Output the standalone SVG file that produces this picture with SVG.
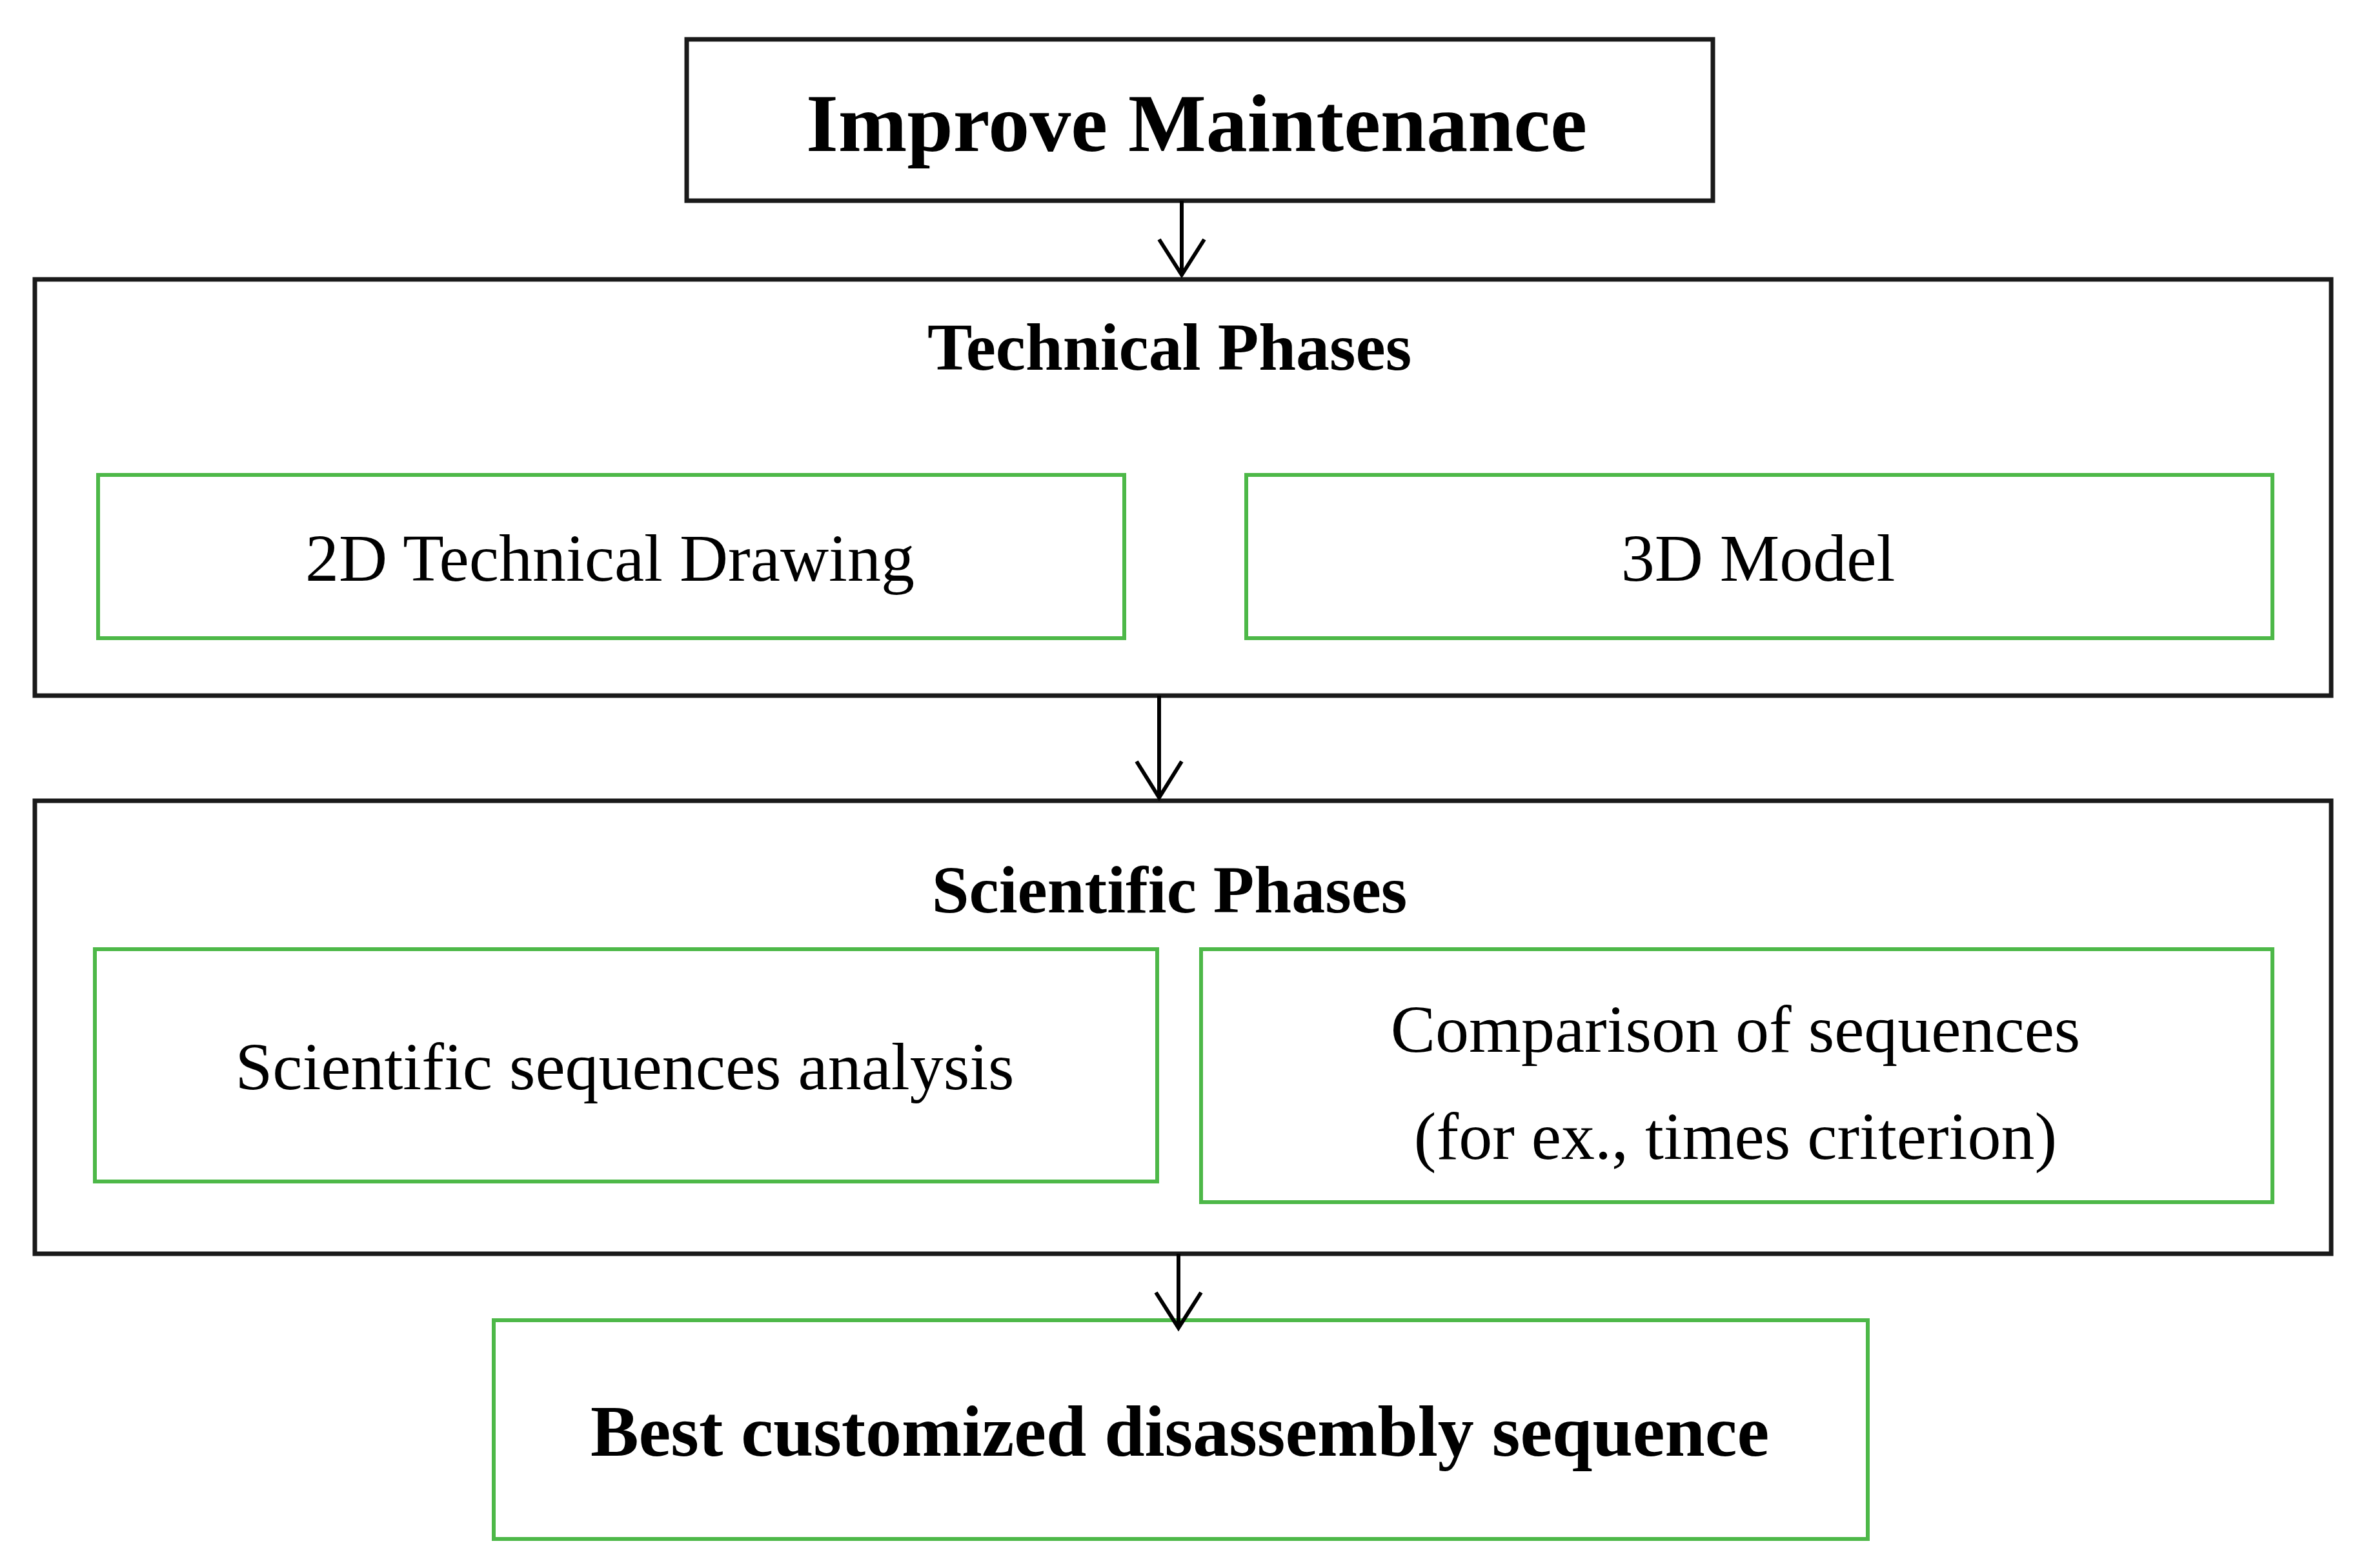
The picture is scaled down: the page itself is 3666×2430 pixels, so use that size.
<svg xmlns="http://www.w3.org/2000/svg" width="3666" height="2430" viewBox="0 0 3666 2430">
<style>
.blk{fill:#fff;stroke:#1a1a1a;stroke-width:7}
.grn{fill:#fff;stroke:#4db848;stroke-width:6}
text{font-family:"Liberation Serif","Times New Roman",serif;fill:#000;text-anchor:middle}
.b{font-weight:bold}
.conn{stroke:#000;stroke-width:6;fill:none}
</style>
<defs>
<marker id="v" viewBox="0 0 20 20" refX="10" refY="19" markerWidth="14" markerHeight="14" markerUnits="userSpaceOnUse" orient="auto-start-reverse">
</marker>
</defs>
<rect width="3666" height="2430" fill="#fff"/>
<g id="improve"><rect class="blk" x="1064" y="61" width="1590" height="250"/><text class="b" x="1854" y="234" font-size="128">Improve Maintenance</text></g>
<g id="technical"><rect class="blk" x="54" y="433" width="3558" height="645"/><text class="b" x="1812" y="573" font-size="104">Technical Phases</text></g>
<g id="drawing2d"><rect class="grn" x="152" y="736" width="1590" height="253"/><text x="945" y="900" font-size="104">2D Technical Drawing</text></g>
<g id="model3d"><rect class="grn" x="1931" y="736" width="1590" height="253"/><text x="2724" y="900" font-size="104">3D Model</text></g>
<g id="scientific"><rect class="blk" x="54" y="1241" width="3558" height="702"/><text class="b" x="1812" y="1414" font-size="104">Scientific Phases</text></g>
<g id="analysis"><rect class="grn" x="147" y="1471" width="1646" height="360"/><text x="968" y="1688" font-size="104">Scientific sequences analysis</text></g>
<g id="comparison"><rect class="grn" x="1861" y="1471" width="1660" height="392"/><text x="2689" y="1630" font-size="104">Comparison of sequences</text><text x="2689" y="1796" font-size="104">(for ex., times criterion)</text></g>
<g id="best"><rect class="grn" x="765" y="2046" width="2129" height="339"/><text class="b" x="1828" y="2256" font-size="112">Best customized disassembly sequence</text></g>
<g id="connectors">
<path class="conn" d="M1831 311V426M1796 371L1831 426L1866 371"/>
<path class="conn" d="M1796 1078V1236M1761 1180L1796 1236L1831 1180"/>
<path class="conn" d="M1826 1943V2058M1791 2003L1826 2058L1861 2003"/>
</g>
</svg>
